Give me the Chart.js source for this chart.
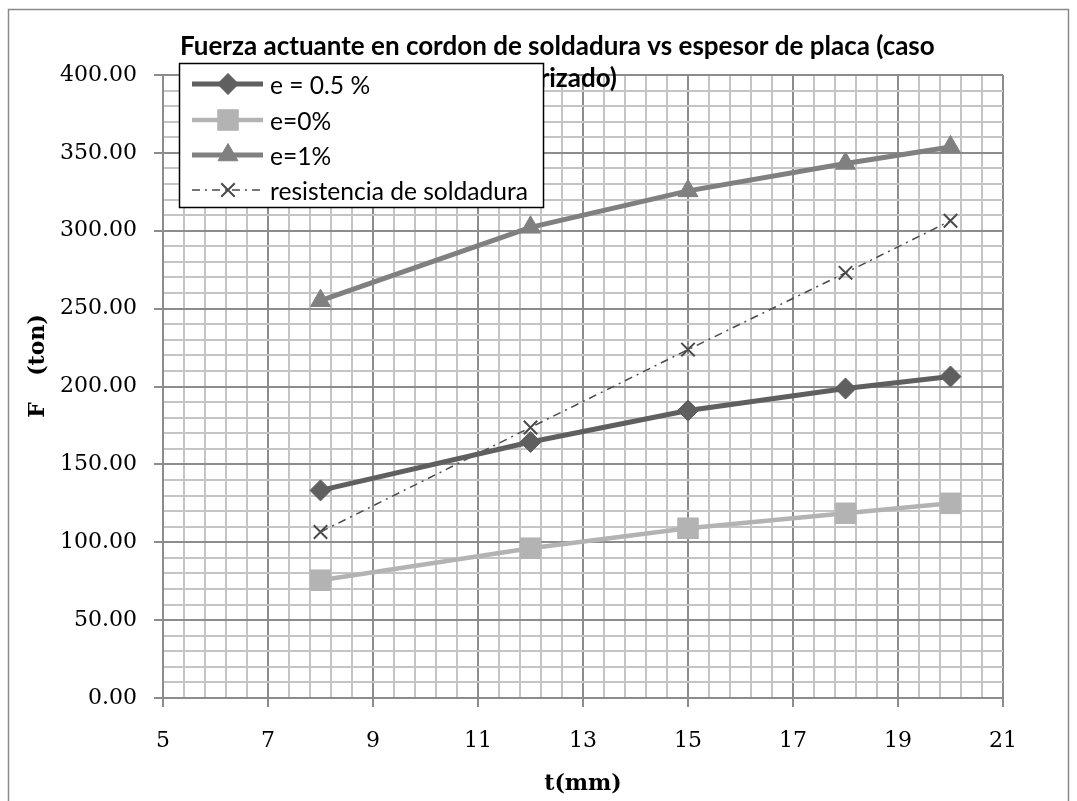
<!DOCTYPE html>
<html><head><meta charset="utf-8">
<script src="https://cdn.jsdelivr.net/npm/chart.js@4.4.1/dist/chart.umd.min.js"></script>
<style>html,body{margin:0;padding:0;background:#fff;overflow:hidden}canvas{display:block}</style>
</head><body>
<canvas id="c" width="1077" height="801"></canvas>
<script>
// ---- data ----
const thickness = [8, 12, 15, 18, 20];
const fuerzaE05 = [133.3, 164.4, 184.6, 198.7, 206.4];
const fuerzaE0 = [75.6, 96.2, 109.0, 118.6, 125.0];
const fuerzaE1 = [255.1, 302.2, 325.6, 343.2, 353.8];
const resistencia = [106.6, 173.7, 223.7, 273.0, 306.4];
const seriesNames = ['e = 0.5 %', 'e=0%', 'e=1%', 'resistencia de soldadura'];
const xTickLabels = ['5', '7', '9', '11', '13', '15', '17', '19', '21'];
const yTickLabels = ['0.00', '50.00', '100.00', '150.00', '200.00', '250.00', '300.00', '350.00', '400.00'];
const titleLines = ['Fuerza actuante en cordon de soldadura vs espesor de placa (caso', 'autorizado)'];
const xAxisTitle = 't(mm)';
const yAxisTitleParts = ['F', '(ton)'];
const xMinorStep = 0.4;
const yMinorStep = 10;

const xMajor = xTickLabels.map(Number);
const yMajor = yTickLabels.map(Number);
const xMin = xMajor[0], xMax = xMajor[xMajor.length - 1];
const yMin = yMajor[0], yMax = yMajor[yMajor.length - 1];

function findLabel(labels, nums, v) {
  for (let i = 0; i < nums.length; i++) if (Math.abs(nums[i] - v) < 1e-6) return labels[i];
  return null;
}

const MAJOR = '#8c8c8c', MINOR = '#c4c4c4';

const series = [
  {vals: fuerzaE05, color: '#5f5f5f', width: 5, style: 'rectRot', radius: 10.5, dash: []},
  {vals: fuerzaE0, color: '#b3b3b3', width: 4.5, style: 'rect', radius: 14.5, dash: []},
  {vals: fuerzaE1, color: '#808080', width: 5, style: 'triangle', radius: 11.5, dash: []},
  {vals: resistencia, color: '#4a4a4a', width: 1.5, style: 'crossRot', radius: 9.5, dash: [8, 5, 2, 5]}
];

const datasets = series.map((s, i) => ({
  label: seriesNames[i],
  data: thickness.map((t, k) => ({x: t, y: s.vals[k]})),
  borderColor: s.color,
  backgroundColor: s.color,
  borderWidth: s.width,
  borderDash: s.dash,
  pointStyle: s.style,
  pointRadius: s.radius,
  pointHoverRadius: s.radius,
  pointBorderWidth: s.style === 'crossRot' ? 2 : 1,
  pointBorderColor: s.color,
  pointBackgroundColor: s.color,
  tension: 0,
  fill: false
}));

const decor = {
  id: 'decor',
  beforeDraw(chart) {
    const ctx = chart.ctx;
    ctx.save(); ctx.fillStyle = '#fff'; ctx.fillRect(0, 0, chart.width, chart.height); ctx.restore();
  },
  afterDraw(chart) {
    const ctx = chart.ctx, a = chart.chartArea;
    ctx.save();
    // outer frame
    ctx.strokeStyle = '#8a8a8a'; ctx.lineWidth = 1.5;
    ctx.strokeRect(8.5, 9.5, 1060, 830);
    // axis titles
    ctx.fillStyle = '#000';
    ctx.font = 'bold 22px "DejaVu Serif"';
    ctx.textAlign = 'center'; ctx.textBaseline = 'middle';
    ctx.fillText(xAxisTitle, (a.left + a.right) / 2, 784);
    ctx.save(); ctx.translate(38, 410); ctx.rotate(-Math.PI / 2); ctx.fillText(yAxisTitleParts[0], 0, 0); ctx.restore();
    ctx.save(); ctx.translate(38, 345); ctx.rotate(-Math.PI / 2); ctx.fillText(yAxisTitleParts[1], 0, 0); ctx.restore();
    // chart title
    let ts = 18;
    ctx.font = 'bold ' + ts + 'px Lato';
    ts = ts * 755 / ctx.measureText(titleLines[0]).width;
    ctx.font = 'bold ' + ts.toFixed(2) + 'px Lato';
    ctx.textBaseline = 'alphabetic';
    ctx.textAlign = 'left'; ctx.fillText(titleLines[0], 180, 55);
    ctx.textAlign = 'right'; ctx.fillText(titleLines[1], 617, 87);
    // legend
    const L = 179.5, T = 63.5, R = 543.5, B = 207.5;
    ctx.fillStyle = '#fff'; ctx.fillRect(L, T, R - L, B - T);
    ctx.strokeStyle = '#000'; ctx.lineWidth = 1.5; ctx.strokeRect(L, T, R - L, B - T);
    let ls = 20;
    ctx.font = ls + 'px Lato';
    ls = ls * 258 / ctx.measureText(seriesNames[3]).width;
    const rows = [84, 120, 155, 190];
    series.forEach((s, i) => {
      const y = rows[i];
      ctx.save();
      ctx.strokeStyle = s.color; ctx.lineWidth = s.width; ctx.setLineDash(s.dash);
      ctx.beginPath(); ctx.moveTo(192, y); ctx.lineTo(263, y); ctx.stroke();
      ctx.setLineDash([]);
      ctx.fillStyle = s.color; ctx.strokeStyle = s.color;
      ctx.lineWidth = s.style === 'crossRot' ? 2 : 1;
      Chart.helpers.drawPoint(ctx, {pointStyle: s.style, radius: s.radius, rotation: 0, borderWidth: ctx.lineWidth}, 228, y);
      ctx.restore();
      ctx.fillStyle = '#000';
      ctx.font = ls.toFixed(2) + 'px Lato';
      ctx.textAlign = 'left'; ctx.textBaseline = 'middle';
      ctx.fillText(seriesNames[i], 270, y + 2);
    });
    ctx.restore();
  }
};

new Chart(document.getElementById('c'), {
  type: 'line',
  data: {datasets},
  plugins: [decor],
  options: {
    responsive: false,
    animation: false,
    layout: {padding: {top: 75, right: 74, left: 0, bottom: 0}},
    plugins: {legend: {display: false}, title: {display: false}, tooltip: {enabled: false}},
    scales: {
      x: {
        type: 'linear', min: xMin, max: xMax,
        afterFit: (s) => { s.height = 103; },
        afterBuildTicks: (s) => {
          const t = [];
          const n = Math.round((xMax - xMin) / xMinorStep);
          for (let i = 0; i <= n; i++) t.push({value: +(xMin + i * xMinorStep).toFixed(4)});
          s.ticks = t;
        },
        ticks: {
          autoSkip: false, maxRotation: 0, padding: 21,
          color: '#000', font: {family: '"DejaVu Serif"', size: 22},
          callback: (v) => findLabel(xTickLabels, xMajor, v) || ''
        },
        grid: {
          drawTicks: true, tickLength: 9,
          color: (c) => findLabel(xTickLabels, xMajor, c.tick.value) !== null ? MAJOR : MINOR,
          tickColor: (c) => findLabel(xTickLabels, xMajor, c.tick.value) !== null ? MAJOR : 'rgba(0,0,0,0)',
          lineWidth: 2, tickWidth: 2
        },
        border: {display: true, color: MAJOR, width: 2}
      },
      y: {
        type: 'linear', min: yMin, max: yMax,
        afterFit: (s) => { s.width = 163; },
        afterBuildTicks: (s) => {
          const t = [];
          const n = Math.round((yMax - yMin) / yMinorStep);
          for (let i = 0; i <= n; i++) t.push({value: yMin + i * yMinorStep});
          s.ticks = t;
        },
        ticks: {
          autoSkip: false, padding: 17,
          color: '#000', font: {family: '"DejaVu Serif"', size: 22},
          callback: (v) => findLabel(yTickLabels, yMajor, v) || ''
        },
        grid: {
          drawTicks: true, tickLength: 9,
          color: (c) => findLabel(yTickLabels, yMajor, c.tick.value) !== null ? MAJOR : MINOR,
          tickColor: (c) => findLabel(yTickLabels, yMajor, c.tick.value) !== null ? MAJOR : 'rgba(0,0,0,0)',
          lineWidth: 2, tickWidth: 2
        },
        border: {display: true, color: MAJOR, width: 2}
      }
    }
  }
});
</script>
</body></html>
